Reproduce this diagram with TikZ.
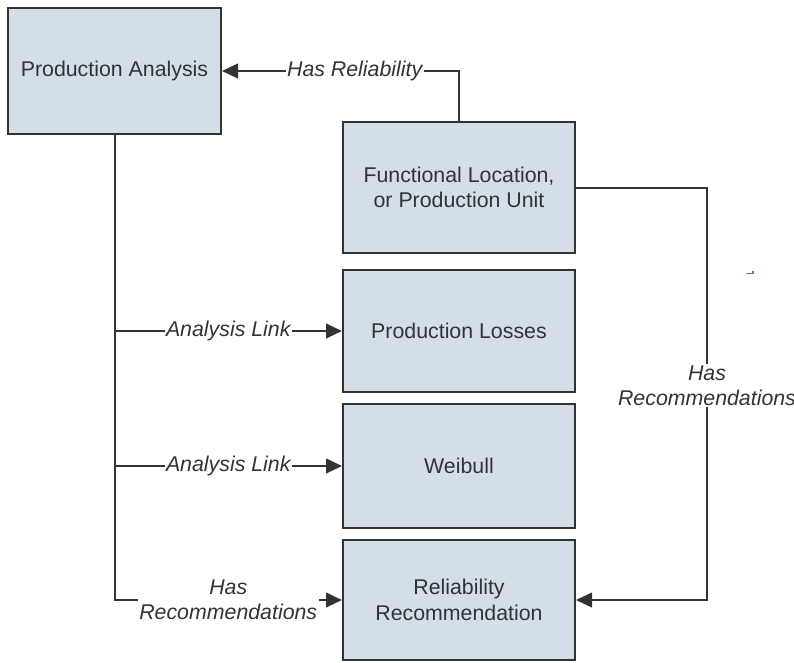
\documentclass[tikz,border=0pt]{standalone}
\usepackage{fontspec}
\setmainfont{Liberation Sans}
\usetikzlibrary{arrows.meta}
\definecolor{boxfill}{RGB}{211,222,232}
\definecolor{ink}{RGB}{51,51,51}
\begin{document}
\begin{tikzpicture}[x=0.75pt, y=-0.75pt,
        font=\fontsize{16}{19}\selectfont, text=ink,
        box/.style={draw=ink, line width=1.5pt, fill=boxfill, inner sep=2pt, align=center},
        link/.style={draw=ink, line width=1.5pt, -{Triangle[length=12pt, width=11pt]}},
        lbl/.style={fill=white, inner sep=1pt, font=\fontsize{16}{19}\selectfont\itshape, align=center}]
        \useasboundingbox (0,0) rectangle (794,662);                            %
        \node [box, minimum width=159.75pt, minimum height=94.5pt] (pa) at (114.5,71)  {Production Analysis};              %
        \node [box, minimum width=174pt, minimum height=98.25pt]   (fl) at (459,187.5) {Functional Location,\\or Production Unit};
        \node [box, minimum width=174pt, minimum height=91.5pt]    (pl) at (459,331)   {Production Losses};                %
        \node [box, minimum width=174pt, minimum height=93pt]      (wb) at (459,466)   {Weibull};                          %
        \node [box, minimum width=174pt, minimum height=90pt]      (rr) at (459,600)   {Reliability\\Recommendation};      %

        \draw [link] (fl.north) |- node [lbl, pos=0.72] {Has Reliability} (pa.east);                    %
        \draw [link] (pa.south) |- node [lbl, pos=0.75] {Analysis Link} (pl.west);                      %
        \draw [link] (pa.south) |- node [lbl, pos=0.75] {Analysis Link} (wb.west);                      %
        \draw [link] (pa.south) |- node [lbl, pos=0.75] {Has\\Recommendations} (rr.west);               %
        \draw [link] (fl.east) -- ++(131,0) |- node [lbl, pos=0.24] {Has\\Recommendations} (rr.east);   %

        \draw [blue!60, line width=0.8pt] (746,273.5) -- (753,273.5) -- (753,271);                      %stray mark
\end{tikzpicture}
\end{document}
